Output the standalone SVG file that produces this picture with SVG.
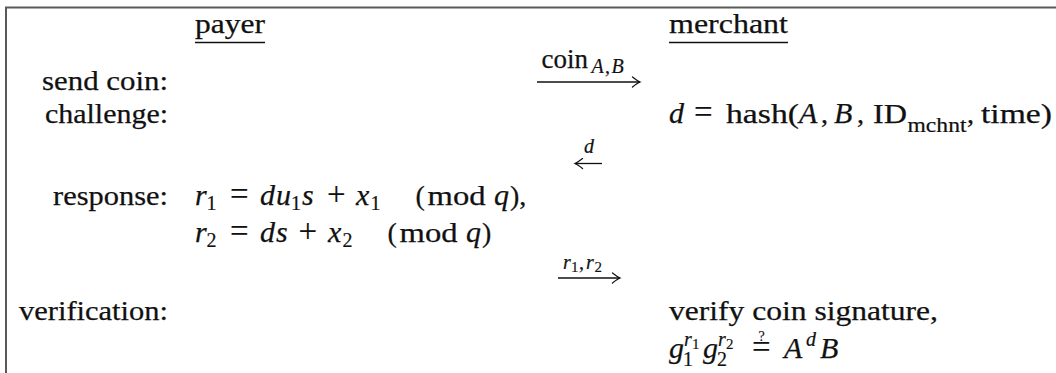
<svg xmlns="http://www.w3.org/2000/svg" width="1056" height="373" viewBox="0 0 1056 373">
<style>
.t{font-family:"Liberation Serif",serif;font-size:28px;fill:#111111;stroke:#111111;stroke-width:0.25}
.i{font-style:italic;font-size:30px}
.s{font-size:20px;stroke-width:0.2}
.ss{font-size:15px;stroke-width:0.15}
.eq{font-size:33px;stroke-width:0.15}
.ul{stroke:#111111;stroke-width:1.3}
.ln{stroke:#111111;stroke-width:1.3;fill:none}
.hd{stroke:#111111;stroke-width:1.3;fill:none;stroke-linecap:round}
.fr{stroke:#5a5a5a;stroke-width:2;fill:none}
</style>
<defs>
<marker id="ah" viewBox="-10 -6 12 12" refX="0" refY="0" markerWidth="12" markerHeight="12" markerUnits="userSpaceOnUse" orient="auto">
<path class="hd" d="M-7.5,-5 Q-2.5,-1 0,0 Q-2.5,1 -7.5,5"/>
</marker>
</defs>
<rect width="1056" height="373" fill="#ffffff"/>
<path class="fr" d="M6,374 V7.5 H1057"/>

<g id="payer-header">
<text class="t" x="195" y="33" textLength="70" lengthAdjust="spacingAndGlyphs">payer</text>
<line class="ul" x1="195" y1="42.5" x2="265" y2="42.5"/>
</g>
<g id="merchant-header">
<text class="t" x="669" y="33" textLength="119" lengthAdjust="spacingAndGlyphs">merchant</text>
<line class="ul" x1="669" y1="42.5" x2="788" y2="42.5"/>
</g>

<g id="label-send-coin"><text class="t" x="42" y="90" textLength="126" lengthAdjust="spacingAndGlyphs">send coin:</text></g>
<g id="label-challenge"><text class="t" x="45" y="123" textLength="123" lengthAdjust="spacingAndGlyphs">challenge:</text></g>
<g id="label-response"><text class="t" x="53" y="205" textLength="115" lengthAdjust="spacingAndGlyphs">response:</text></g>
<g id="label-verification"><text class="t" x="19" y="320" textLength="149" lengthAdjust="spacingAndGlyphs">verification:</text></g>

<g id="merchant-challenge">
<text class="t i" x="669" y="123">d</text>
<text class="t eq" x="694" y="123">=</text>
<text class="t" x="726" y="123" textLength="73" lengthAdjust="spacingAndGlyphs">hash(</text>
<text class="t i" x="799" y="123">A</text>
<text class="t" x="821" y="123">,</text>
<text class="t i" x="834" y="123">B</text>
<text class="t" x="857" y="123">,</text>
<text class="t" x="873" y="123" textLength="34" lengthAdjust="spacingAndGlyphs">ID</text>
<text class="t s" x="907.5" y="131.5" textLength="59" lengthAdjust="spacingAndGlyphs">mchnt</text>
<text class="t" x="967" y="123">,</text>
<text class="t" x="981" y="123" textLength="71" lengthAdjust="spacingAndGlyphs">time)</text>
</g>

<g id="payer-response">
<text class="t i" x="195" y="205">r</text>
<text class="t s" x="206.5" y="209.5">1</text>
<text class="t eq" x="230" y="205">=</text>
<text class="t i" x="260" y="205">d</text>
<text class="t i" x="276" y="205">u</text>
<text class="t s" x="291" y="209.5">1</text>
<text class="t i" x="302" y="205">s</text>
<text class="t eq" x="327" y="205">+</text>
<text class="t i" x="356" y="205">x</text>
<text class="t s" x="370.5" y="209.5">1</text>
<text class="t" x="415.5" y="205">(</text>
<text class="t" x="427.5" y="205" textLength="58" lengthAdjust="spacingAndGlyphs">mod</text>
<text class="t i" x="494" y="205">q</text>
<text class="t" x="510" y="205">),</text>

<text class="t i" x="195" y="242">r</text>
<text class="t s" x="206.5" y="246.5">2</text>
<text class="t eq" x="230" y="242">=</text>
<text class="t i" x="260" y="242">d</text>
<text class="t i" x="276" y="242">s</text>
<text class="t eq" x="298.5" y="242">+</text>
<text class="t i" x="328" y="242">x</text>
<text class="t s" x="342.5" y="246.5">2</text>
<text class="t" x="387.5" y="242">(</text>
<text class="t" x="399.5" y="242" textLength="58" lengthAdjust="spacingAndGlyphs">mod</text>
<text class="t i" x="466" y="242">q</text>
<text class="t" x="482" y="242">)</text>
</g>

<g id="merchant-verification">
<text class="t" x="669" y="320" textLength="269" lengthAdjust="spacingAndGlyphs">verify coin signature,</text>
<text class="t i" x="669" y="358">g</text>
<text class="t s i" x="684" y="346" style="font-size:20px">r</text>
<text class="t ss" x="692" y="349">1</text>
<text class="t s" x="683" y="366">1</text>
<text class="t i" x="703" y="358">g</text>
<text class="t s i" x="718" y="346" style="font-size:20px">r</text>
<text class="t ss" x="726" y="349">2</text>
<text class="t s" x="717" y="366">2</text>
<text class="t eq" x="752" y="358">=</text>
<text class="t ss" x="758.5" y="341" style="font-size:14px">?</text>
<text class="t i" x="784" y="358">A</text>
<text class="t s i" x="806" y="346" style="font-size:20px">d</text>
<text class="t i" x="820" y="358">B</text>
</g>

<g id="connectors">
<g id="msg-coin">
<line class="ln" x1="537" y1="82" x2="640" y2="82" marker-end="url(#ah)"/>
<text class="t" x="541.5" y="68" textLength="46.5" lengthAdjust="spacingAndGlyphs">coin</text>
<text class="t s i" x="591.5" y="73" style="font-size:20px">A</text>
<text class="t s" x="605" y="73">,</text>
<text class="t s i" x="611.5" y="73" style="font-size:20px">B</text>
</g>
<g id="msg-d">
<line class="ln" x1="602" y1="163.5" x2="575" y2="163.5" marker-end="url(#ah)"/>
<text class="t s i" x="584" y="153" style="font-size:20px">d</text>
</g>
<g id="msg-r">
<line class="ln" x1="558" y1="278" x2="620" y2="278" marker-end="url(#ah)"/>
<text class="t s i" x="563" y="268.5" style="font-size:20px">r</text>
<text class="t ss" x="571" y="271.5">1</text>
<text class="t s" x="579" y="268.5">,</text>
<text class="t s i" x="586" y="268.5" style="font-size:20px">r</text>
<text class="t ss" x="594.5" y="271.5">2</text>
</g>
</g>
</svg>
